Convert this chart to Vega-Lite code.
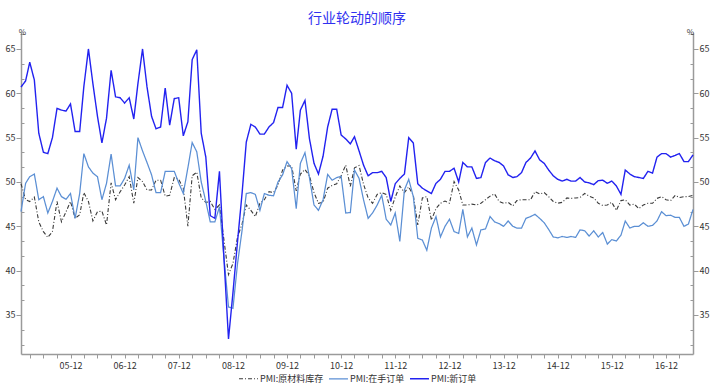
{
"$schema": "https://vega.github.io/schema/vega-lite/v6.json",
"width": 672, "height": 321,
"autosize": {"type": "none"},
"padding": {"left": 21, "top": 33, "right": 22, "bottom": 36},
"background": "white",
"title": {"text": "行业轮动的顺序", "fontSize": 14, "fontWeight": "normal", "color": "#3030f0", "font": "Noto Sans CJK SC", "offset": 2},
"data": {"values": [
{"d":"2005-01-01","raw":49.8,"hand":46.65,"new":60.7},
{"d":"2005-02-01","raw":48.0,"hand":49.85,"new":61.4},
{"d":"2005-03-01","raw":47.8,"hand":50.6,"new":63.5},
{"d":"2005-04-01","raw":48.3,"hand":50.9,"new":61.5},
{"d":"2005-05-01","raw":45.5,"hand":48.0,"new":55.5},
{"d":"2005-06-01","raw":44.4,"hand":48.35,"new":53.35},
{"d":"2005-07-01","raw":43.75,"hand":46.5,"new":53.2},
{"d":"2005-08-01","raw":44.4,"hand":47.8,"new":55.0},
{"d":"2005-09-01","raw":47.8,"hand":49.3,"new":58.3},
{"d":"2005-10-01","raw":45.5,"hand":48.35,"new":58.1},
{"d":"2005-11-01","raw":46.65,"hand":48.05,"new":58.0},
{"d":"2005-12-01","raw":47.8,"hand":48.7,"new":58.8},
{"d":"2006-01-01","raw":45.9,"hand":45.9,"new":55.7},
{"d":"2006-02-01","raw":46.3,"hand":48.7,"new":55.7},
{"d":"2006-03-01","raw":48.8,"hand":53.2,"new":60.75},
{"d":"2006-04-01","raw":47.8,"hand":51.7,"new":65.0},
{"d":"2006-05-01","raw":45.6,"hand":51.0,"new":61.1},
{"d":"2006-06-01","raw":46.65,"hand":50.6,"new":57.4},
{"d":"2006-07-01","raw":46.7,"hand":48.0,"new":54.4},
{"d":"2006-08-01","raw":45.15,"hand":49.85,"new":57.2},
{"d":"2006-09-01","raw":49.9,"hand":53.15,"new":62.6},
{"d":"2006-10-01","raw":48.0,"hand":49.55,"new":59.6},
{"d":"2006-11-01","raw":48.9,"hand":49.55,"new":59.5},
{"d":"2006-12-01","raw":49.65,"hand":50.4,"new":58.9},
{"d":"2007-01-01","raw":50.6,"hand":51.9,"new":59.5},
{"d":"2007-02-01","raw":47.6,"hand":49.1,"new":57.1},
{"d":"2007-03-01","raw":50.5,"hand":55.0,"new":61.1},
{"d":"2007-04-01","raw":50.05,"hand":53.5,"new":65.0},
{"d":"2007-05-01","raw":49.1,"hand":52.2,"new":60.75},
{"d":"2007-06-01","raw":49.1,"hand":50.8,"new":57.4},
{"d":"2007-07-01","raw":50.2,"hand":48.8,"new":56.0},
{"d":"2007-08-01","raw":50.2,"hand":48.8,"new":56.2},
{"d":"2007-09-01","raw":48.4,"hand":51.2,"new":60.6},
{"d":"2007-10-01","raw":48.5,"hand":51.2,"new":56.4},
{"d":"2007-11-01","raw":50.5,"hand":51.2,"new":59.4},
{"d":"2007-12-01","raw":50.3,"hand":49.9,"new":59.5},
{"d":"2008-01-01","raw":49.3,"hand":48.7,"new":55.2},
{"d":"2008-02-01","raw":45.0,"hand":51.6,"new":56.8},
{"d":"2008-03-01","raw":50.7,"hand":54.45,"new":63.8},
{"d":"2008-04-01","raw":51.1,"hand":53.4,"new":64.9},
{"d":"2008-05-01","raw":48.2,"hand":50.0,"new":55.5},
{"d":"2008-06-01","raw":47.7,"hand":47.8,"new":52.8},
{"d":"2008-07-01","raw":47.8,"hand":45.5,"new":46.2},
{"d":"2008-08-01","raw":46.9,"hand":45.5,"new":45.9},
{"d":"2008-09-01","raw":47.4,"hand":47.2,"new":51.2},
{"d":"2008-10-01","raw":43.5,"hand":41.5,"new":41.5},
{"d":"2008-11-01","raw":39.55,"hand":35.9,"new":32.3},
{"d":"2008-12-01","raw":40.8,"hand":35.75,"new":37.5},
{"d":"2009-01-01","raw":43.8,"hand":40.8,"new":43.3},
{"d":"2009-02-01","raw":45.3,"hand":44.6,"new":48.8},
{"d":"2009-03-01","raw":47.4,"hand":48.7,"new":54.5},
{"d":"2009-04-01","raw":46.8,"hand":48.8,"new":56.5},
{"d":"2009-05-01","raw":46.1,"hand":48.6,"new":56.2},
{"d":"2009-06-01","raw":47.6,"hand":46.8,"new":55.4},
{"d":"2009-07-01","raw":48.0,"hand":48.7,"new":55.4},
{"d":"2009-08-01","raw":48.9,"hand":48.5,"new":56.2},
{"d":"2009-09-01","raw":48.8,"hand":48.45,"new":56.7},
{"d":"2009-10-01","raw":49.65,"hand":50.0,"new":58.4},
{"d":"2009-11-01","raw":51.35,"hand":50.8,"new":58.4},
{"d":"2009-12-01","raw":51.8,"hand":52.3,"new":60.9},
{"d":"2010-01-01","raw":51.8,"hand":51.5,"new":60.0},
{"d":"2010-02-01","raw":49.0,"hand":47.0,"new":53.7},
{"d":"2010-03-01","raw":50.9,"hand":52.1,"new":58.1},
{"d":"2010-04-01","raw":51.4,"hand":53.3,"new":59.2},
{"d":"2010-05-01","raw":50.7,"hand":50.5,"new":54.9},
{"d":"2010-06-01","raw":48.8,"hand":47.4,"new":52.1},
{"d":"2010-07-01","raw":47.6,"hand":46.8,"new":50.9},
{"d":"2010-08-01","raw":47.7,"hand":48.0,"new":52.9},
{"d":"2010-09-01","raw":49.3,"hand":50.85,"new":56.2},
{"d":"2010-10-01","raw":49.6,"hand":50.2,"new":58.2},
{"d":"2010-11-01","raw":49.8,"hand":50.5,"new":58.2},
{"d":"2010-12-01","raw":50.7,"hand":50.65,"new":55.3},
{"d":"2011-01-01","raw":51.9,"hand":46.5,"new":54.85},
{"d":"2011-02-01","raw":49.5,"hand":46.55,"new":54.3},
{"d":"2011-03-01","raw":51.6,"hand":51.35,"new":55.1},
{"d":"2011-04-01","raw":51.85,"hand":50.4,"new":53.5},
{"d":"2011-05-01","raw":49.75,"hand":48.0,"new":51.9},
{"d":"2011-06-01","raw":48.2,"hand":45.9,"new":50.7},
{"d":"2011-07-01","raw":47.6,"hand":46.5,"new":51.05},
{"d":"2011-08-01","raw":48.6,"hand":47.4,"new":51.05},
{"d":"2011-09-01","raw":48.8,"hand":48.5,"new":51.2},
{"d":"2011-10-01","raw":48.6,"hand":45.8,"new":50.5},
{"d":"2011-11-01","raw":46.8,"hand":45.15,"new":47.8},
{"d":"2011-12-01","raw":48.3,"hand":46.5,"new":49.8},
{"d":"2012-01-01","raw":49.55,"hand":43.3,"new":50.4},
{"d":"2012-02-01","raw":48.8,"hand":49.1,"new":50.9},
{"d":"2012-03-01","raw":49.45,"hand":50.3,"new":55.0},
{"d":"2012-04-01","raw":48.5,"hand":48.35,"new":54.4},
{"d":"2012-05-01","raw":45.15,"hand":43.65,"new":49.8},
{"d":"2012-06-01","raw":48.2,"hand":43.45,"new":49.3},
{"d":"2012-07-01","raw":48.35,"hand":42.3,"new":49.0},
{"d":"2012-08-01","raw":45.7,"hand":44.8,"new":48.7},
{"d":"2012-09-01","raw":47.0,"hand":46.1,"new":49.85},
{"d":"2012-10-01","raw":47.6,"hand":43.8,"new":50.3},
{"d":"2012-11-01","raw":47.85,"hand":45.0,"new":51.2},
{"d":"2012-12-01","raw":47.6,"hand":45.8,"new":51.2},
{"d":"2013-01-01","raw":50.05,"hand":44.4,"new":51.55},
{"d":"2013-02-01","raw":49.1,"hand":44.2,"new":50.0},
{"d":"2013-03-01","raw":47.4,"hand":46.9,"new":52.2},
{"d":"2013-04-01","raw":47.4,"hand":43.8,"new":51.7},
{"d":"2013-05-01","raw":47.5,"hand":44.8,"new":51.7},
{"d":"2013-06-01","raw":47.4,"hand":42.9,"new":50.4},
{"d":"2013-07-01","raw":47.6,"hand":44.6,"new":50.5},
{"d":"2013-08-01","raw":48.0,"hand":44.7,"new":52.2},
{"d":"2013-09-01","raw":48.4,"hand":46.1,"new":52.7},
{"d":"2013-10-01","raw":48.65,"hand":45.5,"new":52.4},
{"d":"2013-11-01","raw":47.8,"hand":45.3,"new":52.2},
{"d":"2013-12-01","raw":47.6,"hand":45.0,"new":51.8},
{"d":"2014-01-01","raw":47.7,"hand":45.6,"new":50.8},
{"d":"2014-02-01","raw":47.3,"hand":45.0,"new":50.5},
{"d":"2014-03-01","raw":47.9,"hand":44.8,"new":50.6},
{"d":"2014-04-01","raw":48.0,"hand":44.8,"new":51.05},
{"d":"2014-05-01","raw":48.0,"hand":45.9,"new":52.2},
{"d":"2014-06-01","raw":48.0,"hand":46.1,"new":52.7},
{"d":"2014-07-01","raw":48.9,"hand":46.35,"new":53.5},
{"d":"2014-08-01","raw":48.65,"hand":45.9,"new":52.5},
{"d":"2014-09-01","raw":48.8,"hand":45.4,"new":52.1},
{"d":"2014-10-01","raw":48.35,"hand":44.65,"new":51.35},
{"d":"2014-11-01","raw":47.8,"hand":43.8,"new":50.7},
{"d":"2014-12-01","raw":47.6,"hand":43.7,"new":50.3},
{"d":"2015-01-01","raw":47.7,"hand":43.85,"new":50.1},
{"d":"2015-02-01","raw":48.2,"hand":43.75,"new":50.3},
{"d":"2015-03-01","raw":48.15,"hand":43.85,"new":50.1},
{"d":"2015-04-01","raw":48.2,"hand":43.75,"new":50.1},
{"d":"2015-05-01","raw":48.25,"hand":44.6,"new":50.5},
{"d":"2015-06-01","raw":48.7,"hand":44.5,"new":50.0},
{"d":"2015-07-01","raw":48.4,"hand":43.9,"new":49.9},
{"d":"2015-08-01","raw":48.2,"hand":44.5,"new":49.7},
{"d":"2015-09-01","raw":47.6,"hand":43.8,"new":50.15},
{"d":"2015-10-01","raw":47.35,"hand":44.3,"new":50.2},
{"d":"2015-11-01","raw":47.4,"hand":43.0,"new":49.85},
{"d":"2015-12-01","raw":47.7,"hand":43.5,"new":50.1},
{"d":"2016-01-01","raw":46.8,"hand":43.35,"new":49.55},
{"d":"2016-02-01","raw":47.9,"hand":44.0,"new":48.6},
{"d":"2016-03-01","raw":48.0,"hand":45.6,"new":51.35},
{"d":"2016-04-01","raw":47.4,"hand":44.8,"new":50.9},
{"d":"2016-05-01","raw":47.5,"hand":45.0,"new":50.6},
{"d":"2016-06-01","raw":47.0,"hand":45.0,"new":50.5},
{"d":"2016-07-01","raw":47.4,"hand":45.4,"new":50.4},
{"d":"2016-08-01","raw":47.6,"hand":45.0,"new":51.2},
{"d":"2016-09-01","raw":47.6,"hand":45.1,"new":51.0},
{"d":"2016-10-01","raw":48.15,"hand":45.6,"new":52.8},
{"d":"2016-11-01","raw":48.35,"hand":46.65,"new":53.2},
{"d":"2016-12-01","raw":48.0,"hand":46.2,"new":53.2},
{"d":"2017-01-01","raw":47.9,"hand":46.25,"new":52.8},
{"d":"2017-02-01","raw":48.5,"hand":46.0,"new":53.0},
{"d":"2017-03-01","raw":48.25,"hand":46.0,"new":53.2},
{"d":"2017-04-01","raw":48.35,"hand":45.0,"new":52.3},
{"d":"2017-05-01","raw":48.35,"hand":45.25,"new":52.3},
{"d":"2017-06-01","raw":48.5,"hand":46.9,"new":53.05}
]},
"transform": [{"fold": ["raw", "hand", "new"], "as": ["series", "value"]}],
"encoding": {
  "x": {"field": "d", "type": "temporal",
    "scale": {"type": "utc", "domain": [{"year": 2005, "month": 1, "date": 1, "utc": true}, {"year": 2017, "month": 6, "date": 1, "utc": true}]},
    "axis": {"title": null, "grid": false, "domainColor": "#9a9a9a", "domainWidth": 1.5, "tickColor": "#9a9a9a", "tickSize": 4, "labelFontSize": 9, "labelColor": "#333333", "labelPadding": 3, "labelFont": "Noto Sans CJK SC",
      "labelExpr": "utcmonth(datum.value) == 11 ? utcFormat(datum.value, '%y-%m') : ''",
      "values": [
        {"year":2005,"month":3,"date":1,"utc":true},{"year":2005,"month":6,"date":1,"utc":true},{"year":2005,"month":9,"date":1,"utc":true},{"year":2005,"month":12,"date":1,"utc":true},
        {"year":2006,"month":3,"date":1,"utc":true},{"year":2006,"month":6,"date":1,"utc":true},{"year":2006,"month":9,"date":1,"utc":true},{"year":2006,"month":12,"date":1,"utc":true},
        {"year":2007,"month":3,"date":1,"utc":true},{"year":2007,"month":6,"date":1,"utc":true},{"year":2007,"month":9,"date":1,"utc":true},{"year":2007,"month":12,"date":1,"utc":true},
        {"year":2008,"month":3,"date":1,"utc":true},{"year":2008,"month":6,"date":1,"utc":true},{"year":2008,"month":9,"date":1,"utc":true},{"year":2008,"month":12,"date":1,"utc":true},
        {"year":2009,"month":3,"date":1,"utc":true},{"year":2009,"month":6,"date":1,"utc":true},{"year":2009,"month":9,"date":1,"utc":true},{"year":2009,"month":12,"date":1,"utc":true},
        {"year":2010,"month":3,"date":1,"utc":true},{"year":2010,"month":6,"date":1,"utc":true},{"year":2010,"month":9,"date":1,"utc":true},{"year":2010,"month":12,"date":1,"utc":true},
        {"year":2011,"month":3,"date":1,"utc":true},{"year":2011,"month":6,"date":1,"utc":true},{"year":2011,"month":9,"date":1,"utc":true},{"year":2011,"month":12,"date":1,"utc":true},
        {"year":2012,"month":3,"date":1,"utc":true},{"year":2012,"month":6,"date":1,"utc":true},{"year":2012,"month":9,"date":1,"utc":true},{"year":2012,"month":12,"date":1,"utc":true},
        {"year":2013,"month":3,"date":1,"utc":true},{"year":2013,"month":6,"date":1,"utc":true},{"year":2013,"month":9,"date":1,"utc":true},{"year":2013,"month":12,"date":1,"utc":true},
        {"year":2014,"month":3,"date":1,"utc":true},{"year":2014,"month":6,"date":1,"utc":true},{"year":2014,"month":9,"date":1,"utc":true},{"year":2014,"month":12,"date":1,"utc":true},
        {"year":2015,"month":3,"date":1,"utc":true},{"year":2015,"month":6,"date":1,"utc":true},{"year":2015,"month":9,"date":1,"utc":true},{"year":2015,"month":12,"date":1,"utc":true},
        {"year":2016,"month":3,"date":1,"utc":true},{"year":2016,"month":6,"date":1,"utc":true},{"year":2016,"month":9,"date":1,"utc":true},{"year":2016,"month":12,"date":1,"utc":true},
        {"year":2017,"month":3,"date":1,"utc":true}
      ]}
  }
},
"layer": [
  {
    "mark": {"type": "line", "interpolate": "linear"},
    "encoding": {
      "y": {"field": "value", "type": "quantitative",
        "scale": {"domain": [30.6, 66.8], "nice": false, "zero": false},
        "axis": {"orient": "left", "grid": false, "domainColor": "#9a9a9a", "domainWidth": 1.5, "tickColor": "#9a9a9a",
          "values": [31.6667,33.3333,35,36.6667,38.3333,40,41.6667,43.3333,45,46.6667,48.3333,50,51.6667,53.3333,55,56.6667,58.3333,60,61.6667,63.3333,65,66.6667],
          "tickSize": {"condition": {"test": "datum.value % 5 == 0", "value": 5}, "value": -3},
          "labelExpr": "datum.value % 5 == 0 ? format(datum.value, 'd') : ''",
          "labelFontSize": 9, "labelColor": "#333333", "labelPadding": 1, "labelFont": "Noto Sans CJK SC",
          "title": "%", "titleAngle": 0, "titleX": 1, "titleY": 3, "titleAlign": "center", "titleBaseline": "bottom", "titleFontSize": 8, "titleFontWeight": "normal", "titleColor": "#333333"}},
      "color": {"field": "series", "type": "nominal",
        "scale": {"domain": ["raw", "hand", "new"], "range": ["#3a3a3a", "#5b8fd4", "#2222f0"]},
        "legend": {"title": null, "orient": "none", "legendX": 217, "legendY": 335, "direction": "horizontal", "symbolType": "stroke", "symbolSize": 360, "symbolStrokeWidth": 1.4, "labelFontSize": 9, "labelColor": "#333333", "labelFont": "Noto Sans CJK SC", "columnPadding": 2, "labelOffset": 1,
          "labelExpr": "datum.value == 'raw' ? 'PMI:原材料库存' : datum.value == 'hand' ? 'PMI:在手订单' : 'PMI:新订单'"}},
      "strokeDash": {"field": "series", "type": "nominal",
        "scale": {"domain": ["raw", "hand", "new"], "range": [[4, 2, 1, 2], [1, 0], [1, 0]]},
        "legend": {"title": null, "orient": "none", "legendX": 217, "legendY": 335, "direction": "horizontal", "symbolType": "stroke", "symbolSize": 360, "symbolStrokeWidth": 1.4, "labelFontSize": 9, "labelColor": "#333333", "labelFont": "Noto Sans CJK SC", "columnPadding": 2, "labelOffset": 1,
          "labelExpr": "datum.value == 'raw' ? 'PMI:原材料库存' : datum.value == 'hand' ? 'PMI:在手订单' : 'PMI:新订单'"}},
      "strokeWidth": {"field": "series", "type": "nominal",
        "scale": {"domain": ["raw", "hand", "new"], "range": [1.1, 1.4, 1.5]},
        "legend": null}
    }
  },
  {
    "mark": {"type": "line", "opacity": 0},
    "transform": [{"filter": "datum.series == 'new'"}],
    "encoding": {
      "y": {"field": "value", "type": "quantitative",
        "scale": {"domain": [30.6, 66.8], "nice": false, "zero": false},
        "axis": {"orient": "right", "grid": false, "domainColor": "#9a9a9a", "domainWidth": 1.5, "tickColor": "#9a9a9a",
          "values": [31.6667,33.3333,35,36.6667,38.3333,40,41.6667,43.3333,45,46.6667,48.3333,50,51.6667,53.3333,55,56.6667,58.3333,60,61.6667,63.3333,65,66.6667],
          "tickSize": {"condition": {"test": "datum.value % 5 == 0", "value": 5}, "value": -3},
          "labelExpr": "datum.value % 5 == 0 ? format(datum.value, 'd') : ''",
          "labelFontSize": 9, "labelColor": "#333333", "labelPadding": 1, "labelFont": "Noto Sans CJK SC",
          "title": "%", "titleAngle": 0, "titleX": -3, "titleY": 3, "titleAlign": "center", "titleBaseline": "bottom", "titleFontSize": 8, "titleFontWeight": "normal", "titleColor": "#333333"}}
    }
  }
],
"resolve": {"scale": {"y": "independent"}},
"config": {"view": {"stroke": null}, "font": "Noto Sans CJK SC"}
}
